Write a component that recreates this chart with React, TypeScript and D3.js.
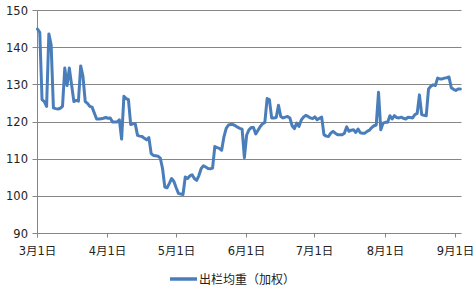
import React from "react";
import * as d3 from "d3";

const startDate = "2017-03-01";
const endDate = "2017-09-03T12:00:00";
const seriesName = "出栏均重（加权）";
const yTicks = [90, 100, 110, 120, 130, 140, 150];
const xTickDates = ["2017-03-01", "2017-04-01", "2017-05-01", "2017-06-01", "2017-07-01", "2017-08-01", "2017-09-01"];
const xTickLabels = ["3月1日", "4月1日", "5月1日", "6月1日", "7月1日", "8月1日", "9月1日"];
// daily values starting at startDate
const values = [
  145.0, 144.1, 126.0, 125.5, 124.2, 143.7, 140.8, 123.8, 123.6, 123.5,
  123.7, 124.2, 134.5, 129.8, 134.5, 130.0, 125.5, 125.8, 125.6, 135.1,
  132.3, 125.5, 125.0, 124.2, 124.0, 122.4, 120.8, 120.8, 120.9, 121.0,
  121.2, 121.0, 121.1, 120.0, 120.0, 120.0, 120.6, 115.4, 126.9, 126.3,
  126.0, 119.3, 119.5, 119.5, 116.4, 116.2, 116.1, 115.6, 115.2, 115.8,
  111.5, 111.0, 110.9, 110.8, 110.3, 107.5, 102.5, 102.3, 103.5, 104.8,
  104.0, 102.3, 100.8, 100.6, 100.5, 105.2, 104.8, 105.5, 105.8, 104.8,
  104.3, 105.6, 107.5, 108.2, 107.9, 107.5, 107.4, 107.6, 113.4, 113.1,
  112.9, 112.4, 116.0, 118.3, 119.2, 119.3, 119.3, 119.0, 118.6, 118.3,
  118.1, 110.4, 116.5, 117.9, 118.5, 118.5, 116.8, 117.8, 118.8, 119.5,
  119.9, 126.3, 126.0, 121.1, 121.1, 121.2, 124.5, 121.5, 121.1, 121.3,
  121.5, 121.1, 119.0, 118.2, 119.7, 118.8, 120.5, 121.3, 121.8, 121.5,
  121.1, 120.9, 121.4, 120.6, 121.0, 121.3, 116.6, 116.2, 116.1, 117.0,
  117.5, 117.0, 116.6, 116.6, 116.6, 117.0, 118.7, 117.5, 117.8, 117.9,
  117.2, 118.1, 117.1, 117.0, 117.0, 117.5, 117.8, 118.5, 119.0, 119.2,
  128.0, 117.9, 119.7, 119.9, 119.9, 121.7, 120.8, 121.7, 121.2, 121.1,
  121.3, 121.0, 120.8, 121.3, 121.2, 121.1, 122.0, 122.3, 127.3, 122.0,
  121.8, 121.7, 128.9, 129.6, 130.0, 129.8, 131.8, 131.6, 131.6, 131.8,
  131.9, 132.1, 129.2, 128.8, 128.5, 128.9, 128.9,
];

const parse = (s: string) => {
  const [y, m, d] = s.slice(0, 10).split("-").map(Number);
  const dt = new Date(y, m - 1, d);
  if (s.length > 10) dt.setHours(Number(s.slice(11, 13)));
  return dt;
};

export default function App() {
  const W = 476, H = 292;
  const left = 37.5, right = 461.5, top = 10.5, bottom = 233.5;
  const start = parse(startDate);
  const x = d3.scaleTime().domain([start, parse(endDate)]).range([left, right]);
  const y = d3.scaleLinear().domain([90, 150]).range([bottom, top]);
  const data = values.map((v, i) => ({ date: d3.timeDay.offset(start, i), v }));
  const line = d3.line<{ date: Date; v: number }>().x((d) => x(d.date)).y((d) => y(d.v));
  const grid = "#868686";
  const blue = "#4a7ebb";
  const snap = (v: number) => Math.round(v - 0.5) + 0.5;
  return (
    <svg width={W} height={H} style={{ position: "absolute", left: 0, top: 0, background: "#fff" }}>
      {yTicks.map((t) => (
        <g key={t}>
          <line x1={left - 5} x2={t === 90 ? right : right} y1={snap(y(t))} y2={snap(y(t))} stroke={grid} strokeWidth={1} />
          <text x={28} y={y(t)} dy="0.35em" textAnchor="end" fontFamily="DejaVu Sans, sans-serif" fontSize={11.5} fill="#222">
            {t}
          </text>
        </g>
      ))}
      <line x1={left} x2={left} y1={top} y2={bottom + 4} stroke={grid} strokeWidth={1} />
      {xTickDates.map((d, i) => {
        const px = snap(x(parse(d)));
        return (
          <g key={d}>
            <line x1={px} x2={px} y1={bottom} y2={bottom + 4} stroke={grid} strokeWidth={1} />
            <text x={px} y={255} textAnchor="middle" fontFamily="DejaVu Sans, 'Noto Sans CJK SC', sans-serif" fontSize={11.5} fill="#222">
              {xTickLabels[i]}
            </text>
          </g>
        );
      })}
      <path d={line(data) || ""} fill="none" stroke={blue} strokeWidth={3} strokeLinejoin="round" strokeLinecap="round" />
      <line x1={170} x2={197} y1={279} y2={279} stroke={blue} strokeWidth={3.5} />
      <text x={199} y={283.5} fontFamily="'Noto Sans CJK SC', sans-serif" fontSize={12} fill="#222">
        {seriesName}
      </text>
    </svg>
  );
}
